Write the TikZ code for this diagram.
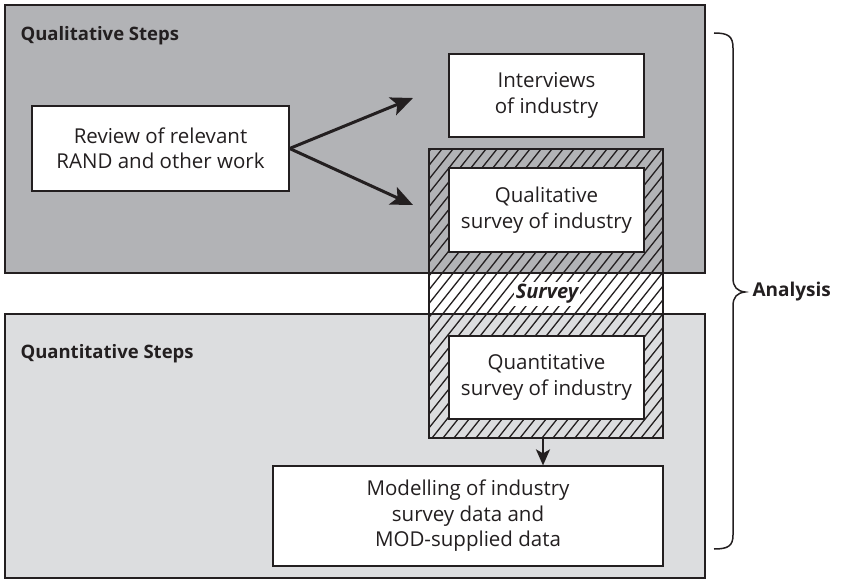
\documentclass[tikz,border=0pt]{standalone}
\usepackage{fontspec}
\setmainfont{Open Sans}
\usetikzlibrary{arrows.meta}
\definecolor{darkbg}{HTML}{B2B3B6}
\definecolor{lightbg}{HTML}{DCDDDF}
\definecolor{ink}{HTML}{231F20}
\tikzset{
  panel/.style={draw=ink, line width=2pt},
  whitebox/.style={draw=ink, line width=1.2pt, fill=white, align=center, inner sep=0pt, text=ink, font=\fontsize{20.5}{25.5}\selectfont},
  title/.style={anchor=west, font=\bfseries\fontsize{18.5}{22}\selectfont, text=ink},
  conn/.style={draw=ink, line width=3pt, -{Stealth[length=22pt,width=19pt,inset=5pt]}},
  downconn/.style={draw=ink, line width=2.4pt, -{Stealth[length=16pt,width=14pt,inset=4pt]}},
}
\begin{document}
\begin{tikzpicture}[x=1pt,y=-1pt]
\useasboundingbox (0,0) rectangle (851,583);
% panels backgrounds
\fill[darkbg] (5,5) rectangle (705,273);
\fill[lightbg] (5,314) rectangle (705,578);
% hatched region
\fill[white] (429,273) rectangle (663,314);
\begin{scope}
  \clip (429,149) rectangle (663,438);
  \foreach \x in {190,201,...,680}
    \draw[ink, line width=1.3pt] (\x,438) -- (\x+230,149);
\end{scope}
\draw[ink, line width=1.2pt] (429,149) rectangle (663,438);
% panel outlines
\draw[panel] (5,5) rectangle (705,273);
\draw[panel] (5,314) rectangle (705,578);
\node[title] (qualt) at (17,36) {Qualitative Steps};
\node[title] (quant) at (17,354) {Quantitative Steps};
% boxes
\node[whitebox, minimum width=257pt, minimum height=85pt] (review) at (160.5,148.5) {Review of relevant\\RAND and other work};
\node[whitebox, minimum width=195pt, minimum height=83pt] (interv) at (546.5,95.5) {Interviews\\of industry};
\node[whitebox, minimum width=195pt, minimum height=84pt] (qsurv) at (546.5,210) {Qualitative\\survey of industry};
\node[whitebox, minimum width=195pt, minimum height=83pt] (nsurv) at (546.5,377.5) {Quantitative\\survey of industry};
\node[whitebox, minimum width=390pt, minimum height=100pt] (model) at (468,516) {Modelling of industry\\survey data and\\MOD-supplied data};
\node[fill=white, inner sep=2pt, font=\bfseries\itshape\fontsize{20}{24}\selectfont, text=ink] (survey) at (547,294) {Survey};
\coordinate (hbot) at (543,438);
% arrows
\draw[conn] (review.east) -- (413,98);
\draw[conn] (review.east) -- (413,205);
\draw[downconn] (hbot) -- (model.north -| hbot);
% brace
\draw[ink, line width=1.5pt] (714,33) .. controls (728,33) and (733,36) .. (733,48)
  -- (733,278) .. controls (733,287) and (737,291) .. (745,292)
  .. controls (737,293) and (733,297) .. (733,306)
  -- (733,535) .. controls (733,546) and (728,549) .. (714,549);
\node[anchor=west, font=\bfseries\fontsize{19}{22}\selectfont, text=ink] (anal) at (749,292) {Analysis};
\end{tikzpicture}
\end{document}
